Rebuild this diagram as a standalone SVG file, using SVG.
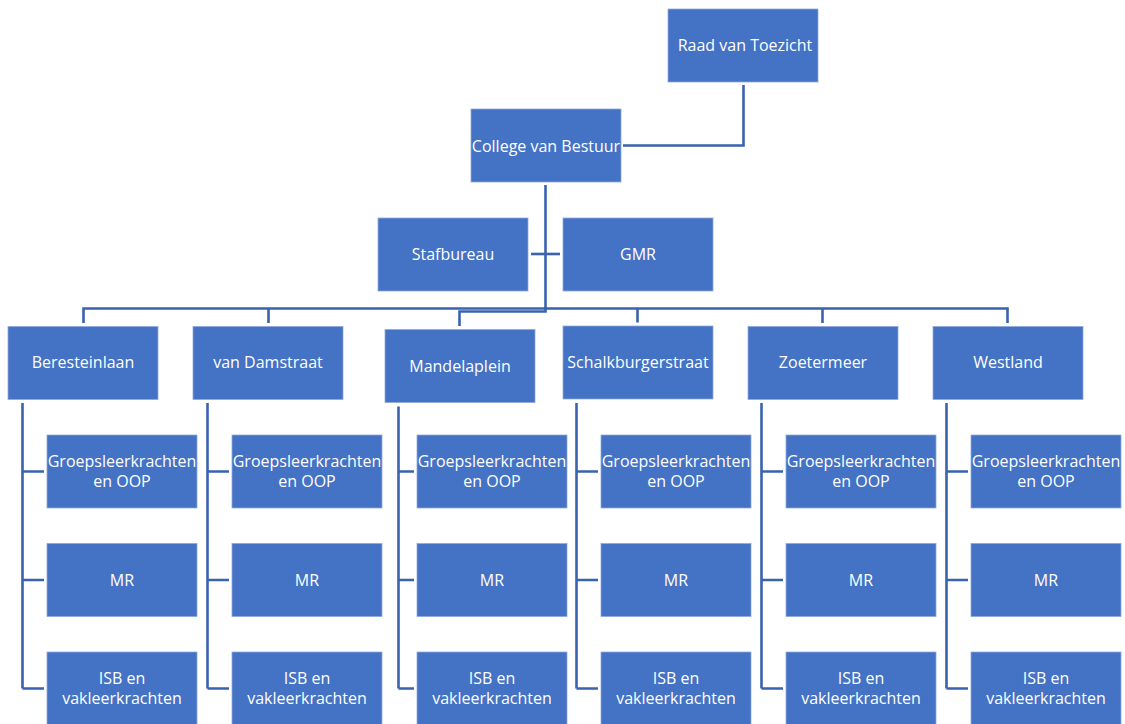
<svg xmlns="http://www.w3.org/2000/svg" width="1125" height="724" viewBox="0 0 1125 724">
<style>
.n{fill:#4472C4;stroke:#8FAADC;stroke-width:0.8}
.t{fill:#fff;font-family:"Open Sans","Liberation Sans",sans-serif;font-size:16px;text-anchor:middle}
.c{fill:none;stroke:#3A62AE;stroke-width:2.6}
</style>
<rect width="1125" height="724" fill="#fff"/>
<g id="connectors" class="c">
<path d="M743.5 85V145.5H623"/>
<path d="M545.5 185V311.5H459.5V326"/>
<path d="M531 254H560"/>
<path d="M83.5 323V308.5H1007.5V323"/>
<path d="M268.5 308.5V323M637.5 308.5V322.5M822.5 308.5V323"/>
<path d="M22.5 403V688.5M22.5 471.5H44M22.5 580H44M22.5 688.5H44"/>
<path d="M207.5 403V688.5M207.5 471.5H229M207.5 580H229M207.5 688.5H229"/>
<path d="M398.5 406.5V688.5M398.5 471.5H414M398.5 580H414M398.5 688.5H414"/>
<path d="M576.5 403V688.5M576.5 471.5H598M576.5 580H598M576.5 688.5H598"/>
<path d="M761.5 403V688.5M761.5 471.5H783M761.5 580H783M761.5 688.5H783"/>
<path d="M946.5 403V688.5M946.5 471.5H968M946.5 580H968M946.5 688.5H968"/>
</g>
<g id="raad"><rect class="n" x="668" y="9" width="150" height="73"/><text class="t" x="745" y="51">Raad van Toezicht</text></g>
<g id="college"><rect class="n" x="471" y="109" width="150" height="73"/><text class="t" x="546" y="152">College van Bestuur</text></g>
<g id="stafbureau"><rect class="n" x="378" y="218" width="150" height="73"/><text class="t" x="453" y="259.5">Stafbureau</text></g>
<g id="gmr"><rect class="n" x="563" y="218" width="150" height="73"/><text class="t" x="638" y="259.5">GMR</text></g>

<g id="beresteinlaan"><rect class="n" x="8" y="326.5" width="150" height="73"/><text class="t" x="83" y="368">Beresteinlaan</text></g>
<g id="vandamstraat"><rect class="n" x="193" y="326.5" width="150" height="73"/><text class="t" x="268" y="368">van Damstraat</text></g>
<g id="mandelaplein"><rect class="n" x="385" y="329.5" width="150" height="73"/><text class="t" x="460" y="371.5">Mandelaplein</text></g>
<g id="schalkburgerstraat"><rect class="n" x="563" y="326" width="150" height="73"/><text class="t" x="638" y="368">Schalkburgerstraat</text></g>
<g id="zoetermeer"><rect class="n" x="748" y="326.5" width="150" height="73"/><text class="t" x="823" y="368">Zoetermeer</text></g>
<g id="westland"><rect class="n" x="933" y="326.5" width="150" height="73"/><text class="t" x="1008" y="368">Westland</text></g>

<g id="c1-groeps"><rect class="n" x="47" y="435" width="150" height="73"/><text class="t" x="122" y="467">Groepsleerkrachten</text><text class="t" x="122" y="487">en OOP</text></g>
<g id="c1-mr"><rect class="n" x="47" y="543.5" width="150" height="73"/><text class="t" x="122" y="585.5">MR</text></g>
<g id="c1-isb"><rect class="n" x="47" y="652" width="150" height="73"/><text class="t" x="122" y="684">ISB en</text><text class="t" x="122" y="704">vakleerkrachten</text></g>

<g id="c2-groeps"><rect class="n" x="232" y="435" width="150" height="73"/><text class="t" x="307" y="467">Groepsleerkrachten</text><text class="t" x="307" y="487">en OOP</text></g>
<g id="c2-mr"><rect class="n" x="232" y="543.5" width="150" height="73"/><text class="t" x="307" y="585.5">MR</text></g>
<g id="c2-isb"><rect class="n" x="232" y="652" width="150" height="73"/><text class="t" x="307" y="684">ISB en</text><text class="t" x="307" y="704">vakleerkrachten</text></g>

<g id="c3-groeps"><rect class="n" x="417" y="435" width="150" height="73"/><text class="t" x="492" y="467">Groepsleerkrachten</text><text class="t" x="492" y="487">en OOP</text></g>
<g id="c3-mr"><rect class="n" x="417" y="543.5" width="150" height="73"/><text class="t" x="492" y="585.5">MR</text></g>
<g id="c3-isb"><rect class="n" x="417" y="652" width="150" height="73"/><text class="t" x="492" y="684">ISB en</text><text class="t" x="492" y="704">vakleerkrachten</text></g>

<g id="c4-groeps"><rect class="n" x="601" y="435" width="150" height="73"/><text class="t" x="676" y="467">Groepsleerkrachten</text><text class="t" x="676" y="487">en OOP</text></g>
<g id="c4-mr"><rect class="n" x="601" y="543.5" width="150" height="73"/><text class="t" x="676" y="585.5">MR</text></g>
<g id="c4-isb"><rect class="n" x="601" y="652" width="150" height="73"/><text class="t" x="676" y="684">ISB en</text><text class="t" x="676" y="704">vakleerkrachten</text></g>

<g id="c5-groeps"><rect class="n" x="786" y="435" width="150" height="73"/><text class="t" x="861" y="467">Groepsleerkrachten</text><text class="t" x="861" y="487">en OOP</text></g>
<g id="c5-mr"><rect class="n" x="786" y="543.5" width="150" height="73"/><text class="t" x="861" y="585.5">MR</text></g>
<g id="c5-isb"><rect class="n" x="786" y="652" width="150" height="73"/><text class="t" x="861" y="684">ISB en</text><text class="t" x="861" y="704">vakleerkrachten</text></g>

<g id="c6-groeps"><rect class="n" x="971" y="435" width="150" height="73"/><text class="t" x="1046" y="467">Groepsleerkrachten</text><text class="t" x="1046" y="487">en OOP</text></g>
<g id="c6-mr"><rect class="n" x="971" y="543.5" width="150" height="73"/><text class="t" x="1046" y="585.5">MR</text></g>
<g id="c6-isb"><rect class="n" x="971" y="652" width="150" height="73"/><text class="t" x="1046" y="684">ISB en</text><text class="t" x="1046" y="704">vakleerkrachten</text></g>
</svg>
